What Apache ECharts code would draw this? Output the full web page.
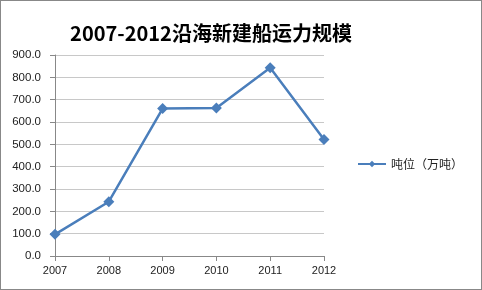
<!DOCTYPE html>
<html><head><meta charset="utf-8">
<script src="https://cdn.jsdelivr.net/npm/echarts@6/dist/echarts.min.js"></script>
<style>html,body{margin:0;padding:0;background:#fff}#c{width:480px;height:288px;border:1px solid #888}</style>
</head><body><div id="c"></div>
<script>
const years = ['2007','2008','2009','2010','2011','2012'];
const tonnage = [97, 243, 660, 663, 843, 522];
const seriesName = '吨位（万吨）';
const titleText = '2007-2012沿海新建船运力规模';
const chart = echarts.init(document.getElementById('c'));
chart.setOption({
  animation: false,
  title: {text: titleText, left: 205, top: 17, textAlign: 'center',
    textStyle: {fontFamily: 'Noto Sans CJK SC', fontSize: 20, fontWeight: 'bold', color: '#000'}},
  legend: {data: [seriesName], orient: 'vertical', left: 351, top: 152,
    itemWidth: 28, itemHeight: 8, itemGap: 4,
    textStyle: {fontFamily: 'Noto Sans CJK SC', fontSize: 12, color: '#222'}},
  grid: {left: 54, right: 157, top: 54, bottom: 33},
  xAxis: {type: 'category', data: years, boundaryGap: false,
    axisLine: {lineStyle: {color: '#888'}},
    axisTick: {show: true, length: 5, lineStyle: {color: '#888'}},
    axisLabel: {fontFamily: 'Liberation Sans', fontSize: 11, color: '#222', margin: 9}},
  yAxis: {type: 'value', min: 0, max: 900, interval: 100,
    axisLine: {show: true, lineStyle: {color: '#888'}},
    axisTick: {show: true, length: 5, lineStyle: {color: '#888'}},
    splitLine: {lineStyle: {color: '#c8c8c8'}},
    axisLabel: {fontFamily: 'Liberation Sans', fontSize: 11.5, color: '#222', margin: 14,
      formatter: v => v.toFixed(1)}},
  series: [{name: seriesName, type: 'line', data: tonnage, symbol: 'diamond', symbolSize: 11,
    lineStyle: {color: '#4A7EBB', width: 2.5}, itemStyle: {color: '#4A7EBB'}}]
});
</script></body></html>
